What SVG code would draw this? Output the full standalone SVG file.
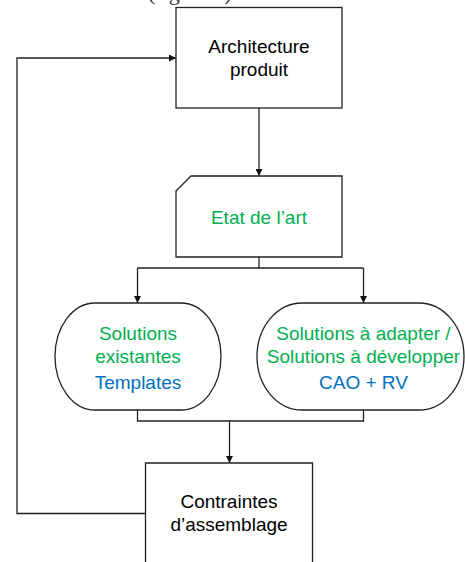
<svg xmlns="http://www.w3.org/2000/svg" width="465" height="562" viewBox="0 0 465 562">
<defs>
<style>
.t{font-family:"Liberation Sans",Arial,sans-serif;font-size:19px;text-anchor:middle;fill:#000}
.g{fill:#00B050}
.b{fill:#0070C0}
.s{fill:#fff;stroke:#222;stroke-width:1.3}
.c{fill:none;stroke:#222;stroke-width:1.3}
.cap{font-family:"Liberation Serif","Times New Roman",serif;font-size:22px;fill:#333}
</style>
<marker id="ah" viewBox="0 0 10 10" refX="10" refY="5" markerWidth="7" markerHeight="7" markerUnits="userSpaceOnUse" orient="auto">
<path d="M0,0 L10,5 L0,10 z" fill="#111"/>
</marker>
</defs>
<rect width="465" height="562" fill="#fff"/>
<text class="cap" x="15" y="0">suivante</text>
<text class="cap" x="148" y="0">(figure 3).</text>
<g id="connectors">
<path class="c" d="M259,108 V176" marker-end="url(#ah)"/>
<path class="c" d="M259,257 V268 M137.5,268 H363.5"/>
<path class="c" d="M137.5,268 V303" marker-end="url(#ah)"/>
<path class="c" d="M363.5,268 V303" marker-end="url(#ah)"/>
<path class="c" d="M137.5,410 V421 H363.5 V410 M229.5,421"/>
<path class="c" d="M229.5,421 V463" marker-end="url(#ah)"/>
<path class="c" d="M145.5,513.5 H17 V58 H176" marker-end="url(#ah)"/>
</g>
<g id="architecture">
<rect class="s" x="176" y="7.5" width="166" height="100.5"/>
<text class="t" x="259" y="52.5">Architecture</text>
<text class="t" x="259" y="75.5">produit</text>
</g>
<g id="etat">
<path class="s" d="M191,176 H342 V257 H176 V191 Z"/>
<text class="t g" x="259" y="223.5">Etat de l’art</text>
</g>
<g id="existantes">
<rect class="s" x="55" y="303" width="166" height="107" rx="40" ry="53.5"/>
<text class="t g" x="138" y="339.5">Solutions</text>
<text class="t g" x="138" y="362.5">existantes</text>
<text class="t b" x="138" y="389">Templates</text>
</g>
<g id="adapter">
<rect class="s" x="257" y="303" width="207" height="107" rx="45" ry="53.5"/>
<text class="t g" x="363.5" y="339.5">Solutions à adapter /</text>
<text class="t g" x="363.5" y="362.5">Solutions à développer</text>
<text class="t b" x="363.5" y="389">CAO + RV</text>
</g>
<g id="contraintes">
<path class="s" d="M145.5,570 V463 H312.5 V570"/>
<text class="t" x="229" y="508">Contraintes</text>
<text class="t" x="229" y="531">d’assemblage</text>
</g>
</svg>
